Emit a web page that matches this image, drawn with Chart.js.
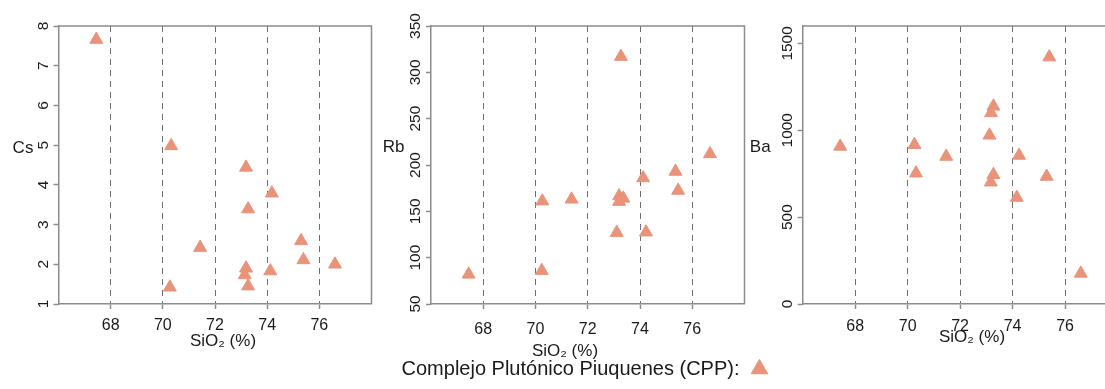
<!DOCTYPE html>
<html>
<head>
<meta charset="utf-8">
<script src="https://cdn.jsdelivr.net/npm/chart.js@4/dist/chart.umd.min.js"></script>
<style>
  html, body { margin: 0; padding: 0; background: #fff; overflow: hidden; }
  #wrap { position: relative; width: 1105px; height: 389px; overflow: hidden; }
  canvas { position: absolute; top: 0; }
</style>
</head>
<body>
<div id="wrap">
  <canvas id="p1" width="380" height="389" style="left:0px"></canvas>
  <canvas id="p2" width="390" height="389" style="left:370px"></canvas>
  <canvas id="p3" width="460" height="389" style="left:742px"></canvas>
  <canvas id="lg" width="401" height="50" style="left:385px; top:349px"></canvas>
</div>
<script>
// ---------------- data ----------------
const SIO2_TICKS = [68, 70, 72, 74, 76];
const SIO2_TITLE = 'SiO\u2082 (%)';
const LEGEND_LABEL = 'Complejo Plutónico Piuquenes (CPP):';

const CS_SIO2 = [67.45, 70.32, 70.27, 71.43, 73.19, 73.27, 73.19, 73.14, 73.27, 74.18, 74.12, 75.30, 75.39, 76.60];
const CS      = [7.66, 4.98, 1.42, 2.42, 4.44, 3.39, 1.90, 1.73, 1.45, 3.79, 1.83, 2.59, 2.11, 2.00];
const CS_TICKS = [1, 2, 3, 4, 5, 6, 7, 8];

const RB_SIO2 = [67.44, 70.24, 70.26, 71.38, 73.11, 73.27, 73.20, 73.36, 73.20, 74.12, 74.23, 75.36, 75.46, 76.68];
const RB      = [82, 86, 161, 163, 127, 317, 166.5, 164, 160.5, 186, 127.5, 193, 172.5, 212];
const RB_TICKS = [50, 100, 150, 200, 250, 300, 350];

const BA_SIO2 = [67.43, 70.26, 70.32, 71.47, 73.12, 73.27, 73.18, 73.27, 73.17, 74.25, 74.16, 75.30, 75.40, 76.60];
const BA      = [907, 917, 753, 849, 971, 1138, 1100, 744, 701, 855, 613, 734, 1421, 176];
const BA_TICKS = [0, 500, 1000, 1500];

// ---------------- style ----------------
const FAMILY = "'Liberation Sans', Arial, Helvetica, sans-serif";
const MARK = '#E9937A';
const AXIS = '#8c8c8c';
const GRID = '#6f6f6f';
const TEXT = '#1a1a1a';
const YTICK_SIZE = 15.5;
const TITLE_SIZE = 17;
const H = 389, TOP = 26, BOTTOM = 304;

const framePlugin = {
  id: 'frame',
  beforeDatasetsDraw(chart) {
    const {ctx, chartArea: a} = chart;
    ctx.save();
    ctx.strokeStyle = AXIS;
    ctx.lineWidth = 1.5;
    ctx.beginPath();
    ctx.moveTo(a.left, a.top);
    ctx.lineTo(a.right, a.top);
    ctx.lineTo(a.right, a.bottom);
    ctx.stroke();
    ctx.restore();
  }
};
// axis titles: y title horizontal, x title at a given centre
const axisLabelPlugin = {
  id: 'axisLabels',
  afterDraw(chart, args, o) {
    const {ctx, chartArea: a} = chart;
    ctx.save();
    ctx.font = TITLE_SIZE + 'px ' + FAMILY;
    ctx.fillStyle = TEXT;
    ctx.textAlign = 'center';
    ctx.textBaseline = 'middle';
    ctx.fillText(o.yText, a.left - o.yDx, o.yY);
    ctx.fillText(o.xText, o.xX, o.xY);
    ctx.restore();
  }
};

function measure(str, size) {
  const c = document.createElement('canvas').getContext('2d');
  c.font = size + 'px ' + FAMILY;
  return c.measureText(str).width;
}

function makePanel(id, xs, ys, yTicks, yMin, yMax, cfg) {
  const widest = Math.max(...yTicks.map(v => measure(String(v), YTICK_SIZE)));
  const pts = xs.map((x, i) => ({x: x, y: ys[i]}));
  return new Chart(document.getElementById(id), {
    type: 'scatter',
    data: { datasets: [{
      label: LEGEND_LABEL, data: pts,
      pointStyle: 'triangle', pointRadius: 7.5, pointHoverRadius: 7.5,
      backgroundColor: MARK, borderColor: MARK, borderWidth: 1
    }]},
    options: {
      responsive: false, animation: false, events: [],
      layout: { padding: { left: 0, right: cfg.padRight, top: TOP, bottom: 0 } },
      scales: {
        x: {
          type: 'linear', min: 66, max: 78,
          afterBuildTicks: s => { s.ticks = SIO2_TICKS.map(v => ({value: v})); },
          afterFit: s => { s.height = H - BOTTOM; },
          ticks: { color: TEXT, font: { family: FAMILY, size: 16 }, padding: cfg.xPad, maxRotation: 0, autoSkip: false,
                   callback: v => String(v) },
          grid: { color: GRID, lineWidth: 1, drawTicks: true, tickLength: 5, tickColor: AXIS, tickWidth: 1.5 },
          border: { display: true, color: AXIS, width: 1.5, dash: [6, 5] }
        },
        y: {
          type: 'linear', min: yMin, max: yMax,
          afterBuildTicks: s => { s.ticks = yTicks.map(v => ({value: v})); },
          afterFit: s => { s.width = cfg.yWidth; },
          ticks: { color: TEXT, font: { family: FAMILY, size: YTICK_SIZE }, minRotation: 90, maxRotation: 90,
                   crossAlign: 'center', padding: 15 - 5 - widest / 2, autoSkip: false,
                   callback: v => String(v) },
          grid: { drawOnChartArea: false, drawTicks: true, tickLength: 5, tickColor: AXIS, tickWidth: 1.5 },
          border: { display: true, color: AXIS, width: 1.5 }
        }
      },
      plugins: {
        legend: { display: false },
        tooltip: { enabled: false },
        axisLabels: { yText: cfg.yLabel, yDx: cfg.yDx, yY: cfg.yLabelY,
                      xText: SIO2_TITLE, xX: cfg.titleX, xY: cfg.titleY }
      }
    },
    plugins: [framePlugin, axisLabelPlugin]
  });
}

// canvas-relative positions (canvas lefts: 0, 370, 742)
makePanel('p1', CS_SIO2, CS, CS_TICKS, 1, 8,
  { yWidth: 58.5, padRight: 7, titleX: 223, titleY: 341.5, xPad: 6.5, yLabel: 'Cs', yDx: 35.5, yLabelY: 148 });
makePanel('p2', RB_SIO2, RB, RB_TICKS, 50, 350,
  { yWidth: 61, padRight: 15.5, titleX: 565 - 370, titleY: 351.5, xPad: 10.5, yLabel: 'Rb', yDx: 37.5, yLabelY: 147 });
makePanel('p3', BA_SIO2, BA, BA_TICKS, 0, 1600,
  { yWidth: 60.7, padRight: 84.5, titleX: 972 - 742, titleY: 337.5, xPad: 7.5, yLabel: 'Ba', yDx: 42.5, yLabelY: 147 });

// legend (text left, marker right)
new Chart(document.getElementById('lg'), {
  type: 'scatter',
  data: { datasets: [{ label: LEGEND_LABEL, data: [], pointStyle: 'triangle',
                       backgroundColor: MARK, borderColor: MARK, borderWidth: 1 }] },
  options: {
    responsive: false, animation: false, events: [],
    layout: { padding: 0 },
    scales: { x: { display: false }, y: { display: false } },
    plugins: {
      tooltip: { enabled: false },
      legend: { display: true, position: 'top', align: 'center', rtl: true, textDirection: 'ltr', maxHeight: 50,
        labels: { usePointStyle: true, boxWidth: 20, boxHeight: 13.5, padding: 10, color: TEXT,
                  font: { family: FAMILY, size: 20 } } }
    }
  }
});
</script>
</body>
</html>
